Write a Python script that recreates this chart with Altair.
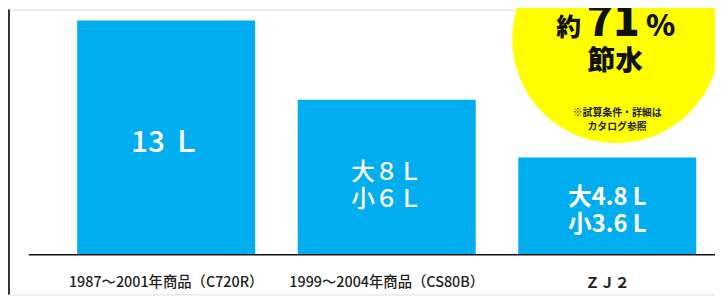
import altair as alt
import pandas as pd

categories = ["1987～2001年商品（C720R）", "1999～2004年商品（CS80B）", "ＺＪ２"]
bar_heights = [13, 8.6, 5.4]
bar_labels = [["13 Ｌ"], ["大８Ｌ", "小６Ｌ"], ["大4.8 L", "小3.6 L"]]
label_sizes = [30, 24, 24]
cat_label_sizes = [14.5, 14.5, 15]
cat_label_weights = [500, 500, 700]

FONT = "Noto Sans CJK JP"
BLUE = "#00AEEF"

df = pd.DataFrame({
    "cat": categories,
    "h": bar_heights,
    "lab": bar_labels,
    "ls": label_sizes,
    "cs": cat_label_sizes,
})

xs = alt.Scale(domain=categories, range=[0, 766], paddingInner=0.193, paddingOuter=0.3136)
ys = alt.Scale(domain=[0, 13], range=[248, 11])
X = alt.X("cat:N", scale=xs, axis=None, sort=categories)

base = alt.Chart(df)

bars = base.mark_bar(color=BLUE).encode(
    x=X, y=alt.Y("h:Q", scale=ys, axis=None)
)


def bar_label(i, weight, dy):
    return base.transform_filter(alt.datum.cat == categories[i]).transform_calculate(
        mid="datum.h / 2"
    ).mark_text(color="white", font=FONT, fontWeight=weight, baseline="middle",
                lineHeight=27, dy=dy).encode(
        x=X, y=alt.Y("mid:Q", scale=ys), text="lab",
        size=alt.Size("ls:Q", scale=None, legend=None)
    )


lab1 = bar_label(0, 500, 5)
lab2 = bar_label(1, 500, -4)
lab3 = bar_label(2, "bold", -8)


def cat_label(i):
    return base.transform_filter(alt.datum.cat == categories[i]).mark_text(
        color="#222222", font=FONT, fontWeight=cat_label_weights[i], baseline="middle"
    ).encode(
        x=X, y=alt.value(277), text="cat:N", size=alt.Size("cs:Q", scale=None, legend=None)
    )


one = alt.Data(values=[{"a": 1}])

baseline = alt.Chart(one).mark_rule(color="#111111", strokeWidth=1.5).encode(
    x=alt.value(21), x2=alt.value(715), y=alt.value(248)
)
left_line = alt.Chart(one).mark_rule(color="#333333", strokeWidth=2).encode(
    x=alt.value(1), y=alt.value(0), y2=alt.value(288)
)

circle = alt.Chart(one).mark_circle(color="#FFFF00", opacity=1, size=44100).encode(
    x=alt.value(615), y=alt.value(30)
)


def note(txt, x, y, size, weight="bold", color="#111111", baseline="alphabetic"):
    return alt.Chart(one).mark_text(text=txt, font=FONT, fontSize=size, fontWeight=weight,
                                     color=color, baseline=baseline).encode(
        x=alt.value(x), y=alt.value(y))


texts = [
    note("約", 567, 27, 25, weight=900),
    note("71", 612, 27, 44, weight=900),
    note("%", 660, 27, 30, weight=900),
    note("節水", 614, 53, 28, weight=900, baseline="middle"),
    note("※試算条件・詳細は", 616, 105, 10, color="#222222", baseline="middle"),
    note("カタログ参照", 616, 119, 10, color="#222222", baseline="middle"),
]

chart = alt.layer(left_line, circle, bars, baseline, lab1, lab2, lab3,
                  cat_label(0), cat_label(1), cat_label(2), *texts).properties(
    width=715, height=288, autosize=alt.AutoSizeParams(type="none"), padding=0
).configure_view(strokeWidth=0).configure(background="white")

chart.save("out.html", embed_options={"renderer": "svg", "actions": False})
